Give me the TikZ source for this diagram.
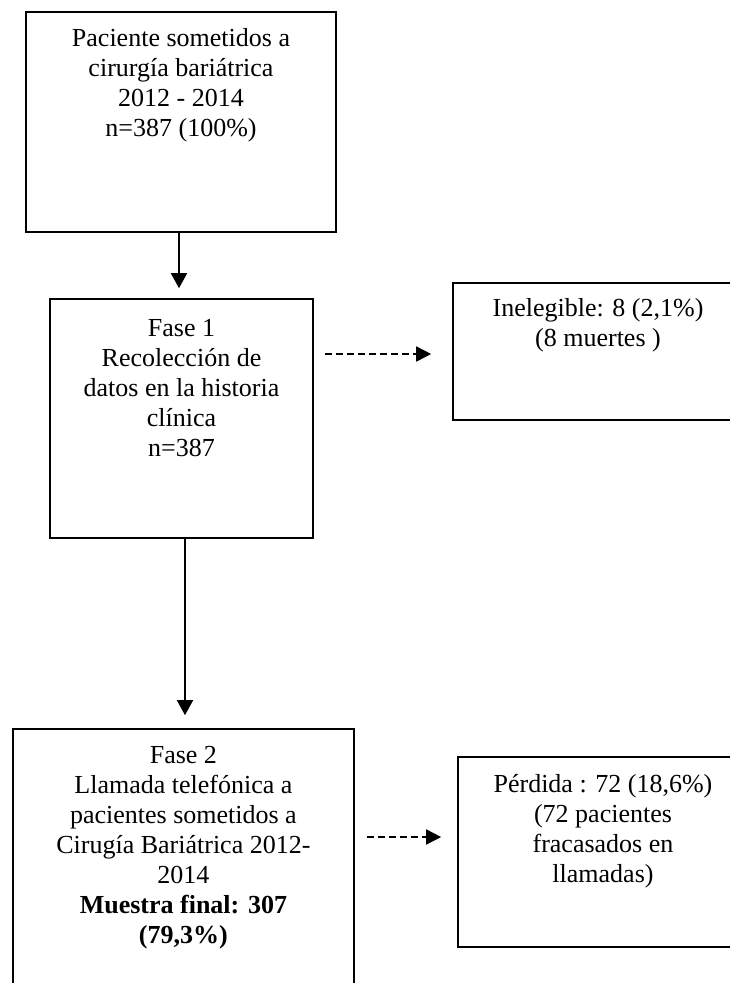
\documentclass[tikz,border=0pt]{standalone}
\usepackage{fontspec}
\setmainfont{Liberation Serif}
\usetikzlibrary{arrows.meta}
\begin{document}
\begin{tikzpicture}[x=1pt,y=-1pt,
  box/.style={draw, line width=1.6pt, rectangle, inner sep=0pt},
  txt/.style={align=center, inner sep=0pt, anchor=north, font=\fontsize{26pt}{30pt}\selectfont},
  solidarrow/.style={line width=1.6pt, -{Triangle[width=16pt,length=15pt]}},
  dasharrow/.style={line width=1.6pt, dash pattern=on 7pt off 4pt, -{Triangle[width=15pt,length=15pt]}}]
\clip (0,0) rectangle (730,983);
\fill[white] (0,0) rectangle (730,983);
% boxes
\node[box, minimum width=310pt, minimum height=220pt] (b1) at (181,122) {};
\node[box, minimum width=263pt, minimum height=239pt] (f1) at (181.5,418.5) {};
\node[box, minimum width=290pt, minimum height=137pt] (ine) at (598,351.5) {};
\node[box, minimum width=341pt, minimum height=281pt] (f2) at (183.4,869.5) {};
\node[box, minimum width=290pt, minimum height=190pt] (per) at (603,852) {};
% texts
\node[txt] (t1) at ([yshift=-15pt]b1.north) {\rule{0pt}{20pt}Paciente sometidos a\\cirurgía bariátrica\\2012 - 2014\\n=387 (100\%)};
\node[txt] (tf1) at ([yshift=-18pt]f1.north) {\rule{0pt}{20pt}Fase 1\\Recolección de\\datos en la historia\\clínica\\n=387};
\node[txt] (tine) at ([yshift=-14pt]ine.north) {\rule{0pt}{20pt}Inelegible: 8 (2,1\%)\\(8 muertes )};
\node[txt] (tf2) at ([yshift=-15pt]f2.north) {\rule{0pt}{20pt}Fase 2\\Llamada telefónica a\\pacientes sometidos a\\Cirugía Bariátrica 2012-\\2014\\\textbf{Muestra final: 307}\\\textbf{(79,3\%)}};
\node[txt] (tper) at ([yshift=-16pt]per.north) {\rule{0pt}{20pt}Pérdida : 72 (18,6\%)\\(72 pacientes\\fracasados en\\llamadas)};
% connectors
\draw[solidarrow, shorten >=10pt] ([xshift=-2pt]b1.south) -- ([xshift=-2pt]b1.south |- f1.north);
\draw[solidarrow, shorten >=13pt] ([xshift=3.5pt]f1.south) -- ([xshift=3.5pt]f1.south |- f2.north);
\draw[dasharrow, shorten <=11pt, shorten >=21pt] ([yshift=-2.5pt]f1.east |- ine.west) -- ([yshift=-2.5pt]ine.west);
\draw[dasharrow, shorten <=12pt, shorten >=16pt] ([yshift=15pt]f2.east |- per.west) -- ([yshift=15pt]per.west);
\end{tikzpicture}
\end{document}
